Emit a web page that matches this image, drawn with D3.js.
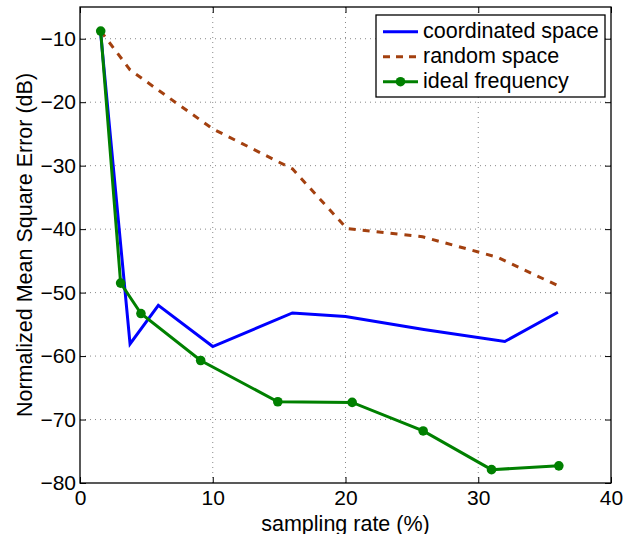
<!DOCTYPE html>
<html><head><meta charset="utf-8">
<script src="https://cdn.jsdelivr.net/npm/d3@7"></script>
<style>
body{margin:0;background:#fff;}
text{font-family:"Liberation Sans",Arial,Helvetica,sans-serif;}
</style></head>
<body><svg id="c" width="624" height="534"></svg>
<script>
const coordX = [1.56, 3.77, 5.9, 10.0, 16.0, 20.0, 25.9, 32.0, 36.0];
const coordY = [-9.2, -58.1, -52.0, -58.5, -53.2, -53.75, -55.8, -57.7, -53.1];
const randX = [1.56, 3.77, 5.9, 10.0, 16.0, 20.1, 25.8, 31.4, 36.0];
const randY = [-8.8, -14.9, -18.1, -24.2, -30.5, -39.9, -41.2, -44.4, -48.9];
const idealX = [1.56, 3.06, 4.59, 9.09, 14.9, 20.5, 25.85, 31.0, 36.07];
const idealY = [-8.8, -48.5, -53.3, -60.7, -67.2, -67.3, -71.8, -77.9, -77.3];
const xTicks = [0, 10, 20, 30, 40];
const yTicks = [-80, -70, -60, -50, -40, -30, -20, -10];
const seriesNames = ["coordinated space", "random space", "ideal frequency"];

const FS = 21.5, TFS = 21;
const svg = d3.select("#c");
const L = 80, R = 611, T = 7, B = 483;
const x = d3.scaleLinear().domain([0, 40]).range([L, R]);
const y = d3.scaleLinear().domain([-80, -5]).range([B, T]);
const fmt = v => String(v).replace("-", "\u2212");

// grid
const g = svg.append("g");
g.selectAll(".gx").data(xTicks.filter(v => v > 0 && v < 40)).enter().append("line")
  .attr("x1", d => x(d)).attr("x2", d => x(d)).attr("y1", T).attr("y2", B)
  .attr("stroke", "#888").attr("stroke-width", 1).attr("stroke-dasharray", "1,4");
g.selectAll(".gy").data(yTicks.filter(v => v > -80)).enter().append("line")
  .attr("x1", L).attr("x2", R).attr("y1", d => y(d)).attr("y2", d => y(d))
  .attr("stroke", "#888").attr("stroke-width", 1).attr("stroke-dasharray", "1,4");

// axes (inside ticks on all sides)
const ax = d3.axisBottom(x).tickValues(xTicks).tickSize(-6).tickFormat(fmt).tickPadding(7.5);
const ay = d3.axisLeft(y).tickValues(yTicks).tickSize(-6).tickFormat(fmt).tickPadding(4);
const axT = d3.axisTop(x).tickValues(xTicks).tickSize(-6).tickFormat("");
const ayR = d3.axisRight(y).tickValues(yTicks).tickSize(-6).tickFormat("");
function style(sel){
  sel.select(".domain").remove();
  sel.selectAll("line").attr("stroke", "#000").attr("stroke-width", 1);
  sel.selectAll("text").attr("font-size", TFS).attr("fill", "#000")
     .attr("font-family", "Liberation Sans, Arial, sans-serif");
}
svg.append("g").attr("transform", `translate(0,${B})`).call(ax).call(style);
svg.append("g").attr("transform", `translate(${L},0)`).call(ay).call(style);
svg.append("g").attr("transform", `translate(0,${T})`).call(axT).call(style);
svg.append("g").attr("transform", `translate(${R},0)`).call(ayR).call(style);
svg.append("rect").attr("x", L).attr("y", T).attr("width", R - L).attr("height", B - T)
  .attr("fill", "none").attr("stroke", "#000").attr("stroke-width", 1.3);

// lines
const line = d3.line().x(d => x(d[0])).y(d => y(d[1]));
const zip = (a, b) => a.map((v, i) => [v, b[i]]);
svg.append("path").datum(zip(randX, randY)).attr("d", line).attr("fill", "none")
  .attr("stroke", "#a3400f").attr("stroke-width", 3).attr("stroke-dasharray", "7,7");
svg.append("path").datum(zip(coordX, coordY)).attr("d", line).attr("fill", "none")
  .attr("stroke", "#0000ff").attr("stroke-width", 3);
svg.append("path").datum(zip(idealX, idealY)).attr("d", line).attr("fill", "none")
  .attr("stroke", "#008000").attr("stroke-width", 3);
svg.selectAll(".m").data(zip(idealX, idealY)).enter().append("circle")
  .attr("cx", d => x(d[0])).attr("cy", d => y(d[1])).attr("r", 4.8).attr("fill", "#008000");

// axis labels
svg.append("text").attr("x", (L + R) / 2).attr("y", 530.5).attr("text-anchor", "middle")
  .attr("font-size", FS).text("sampling rate (%)");
svg.append("text").attr("transform", `translate(32,${(T + B) / 2}) rotate(-90)`)
  .attr("text-anchor", "middle").attr("font-size", FS).text("Normalized Mean Square Error (dB)");

// legend
const lg = svg.append("g");
lg.append("rect").attr("x", 376).attr("y", 15).attr("width", 229).attr("height", 82)
  .attr("fill", "#fff").attr("stroke", "#000").attr("stroke-width", 1.3);
const rows = [31.7, 56.7, 81.7];
const cols = ["#0000ff", "#a3400f", "#008000"];
rows.forEach((ry, i) => {
  const l = lg.append("line").attr("x1", 383).attr("x2", 418).attr("y1", ry).attr("y2", ry)
    .attr("stroke", cols[i]).attr("stroke-width", 3);
  if (i === 1) l.attr("stroke-dasharray", "7,6");
  if (i === 2) lg.append("circle").attr("cx", 400.5).attr("cy", ry).attr("r", 4.8).attr("fill", cols[i]);
  lg.append("text").attr("x", 423).attr("y", ry + 6).attr("font-size", FS).text(seriesNames[i]);
});
</script></body></html>
